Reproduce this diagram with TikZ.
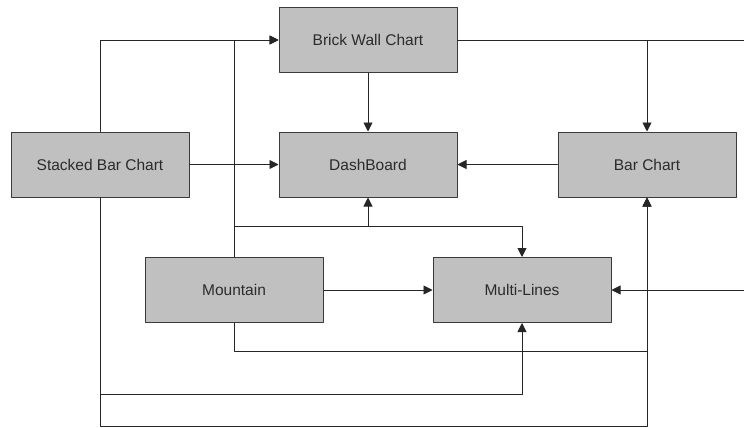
\documentclass[tikz,border=0pt]{standalone}
\usepackage{fontspec}
\setmainfont{Liberation Sans}
\usetikzlibrary{arrows.meta, positioning, calc}
\definecolor{boxgray}{HTML}{C0C0C0}
\definecolor{edgegray}{HTML}{3A3A3A}
\definecolor{textgray}{HTML}{2B2B2B}

\begin{document}
\begin{tikzpicture}[x=1pt, y=-1pt, line cap=round, line join=round,
    chartbox/.style={draw=edgegray, fill=boxgray, line width=1pt, minimum width=178pt, minimum height=65pt, inner sep=0pt, text=textgray, font=\fontsize{15.5}{18}\selectfont},
    link/.style={draw=black!85, line width=0.9pt},
    arr/.style={link, -{Triangle[length=9pt, width=9pt]}}]
      \useasboundingbox[fill=white] (0,0) rectangle (744,428);

      % top row
      \node[chartbox] (brick) at (368,40) {Brick Wall Chart};

      % middle row
      \node[chartbox] (stacked) at (100,164.5) {Stacked Bar Chart};
      \node[chartbox] (dash) at (368,164.5) {DashBoard};
      \node[chartbox] (bar) at (647,164.5) {Bar Chart};

      % lower row
      \node[chartbox] (mountain) at (234,290) {Mountain};
      \node[chartbox] (multi) at (522,290) {Multi-Lines};

      % rails and loose ends
      \coordinate (midrail) at (0,226);
      \coordinate (rail1) at (0,351);
      \coordinate (rail2) at (0,394);
      \coordinate (rail3) at (0,426.5);
      \coordinate (eastout) at (744,40);
      \coordinate (eastin) at (744,290);

      % links into Brick Wall Chart
      \draw[arr] (stacked.north) |- (brick.west);
      \draw[arr] (mountain.north) |- (brick.west);

      % links into DashBoard
      \draw[arr] (brick.south) -- (dash.north);
      \draw[arr] (stacked.east) -- (dash.west);
      \draw[arr] (bar.west) -- (dash.east);
      \draw[arr] (mountain.north) -- (mountain.north |- midrail) -| (dash.south);

      % links into Bar Chart
      \draw[link] (brick.east) -- (eastout);
      \draw[arr] (brick.east) -| (bar.north);
      \draw[arr] (mountain.south) -- (mountain.south |- rail1) -| (bar.south);
      \draw[arr] (stacked.south) -- (stacked.south |- rail3) -| (bar.south);

      % links into Multi-Lines
      \draw[arr] (mountain.north) -- (mountain.north |- midrail) -| (multi.north);
      \draw[arr] (mountain.east) -- (multi.west);
      \draw[arr] (eastin) -- (multi.east);
      \draw[arr] (stacked.south) -- (stacked.south |- rail2) -| (multi.south);
    \end{tikzpicture}
\end{document}
